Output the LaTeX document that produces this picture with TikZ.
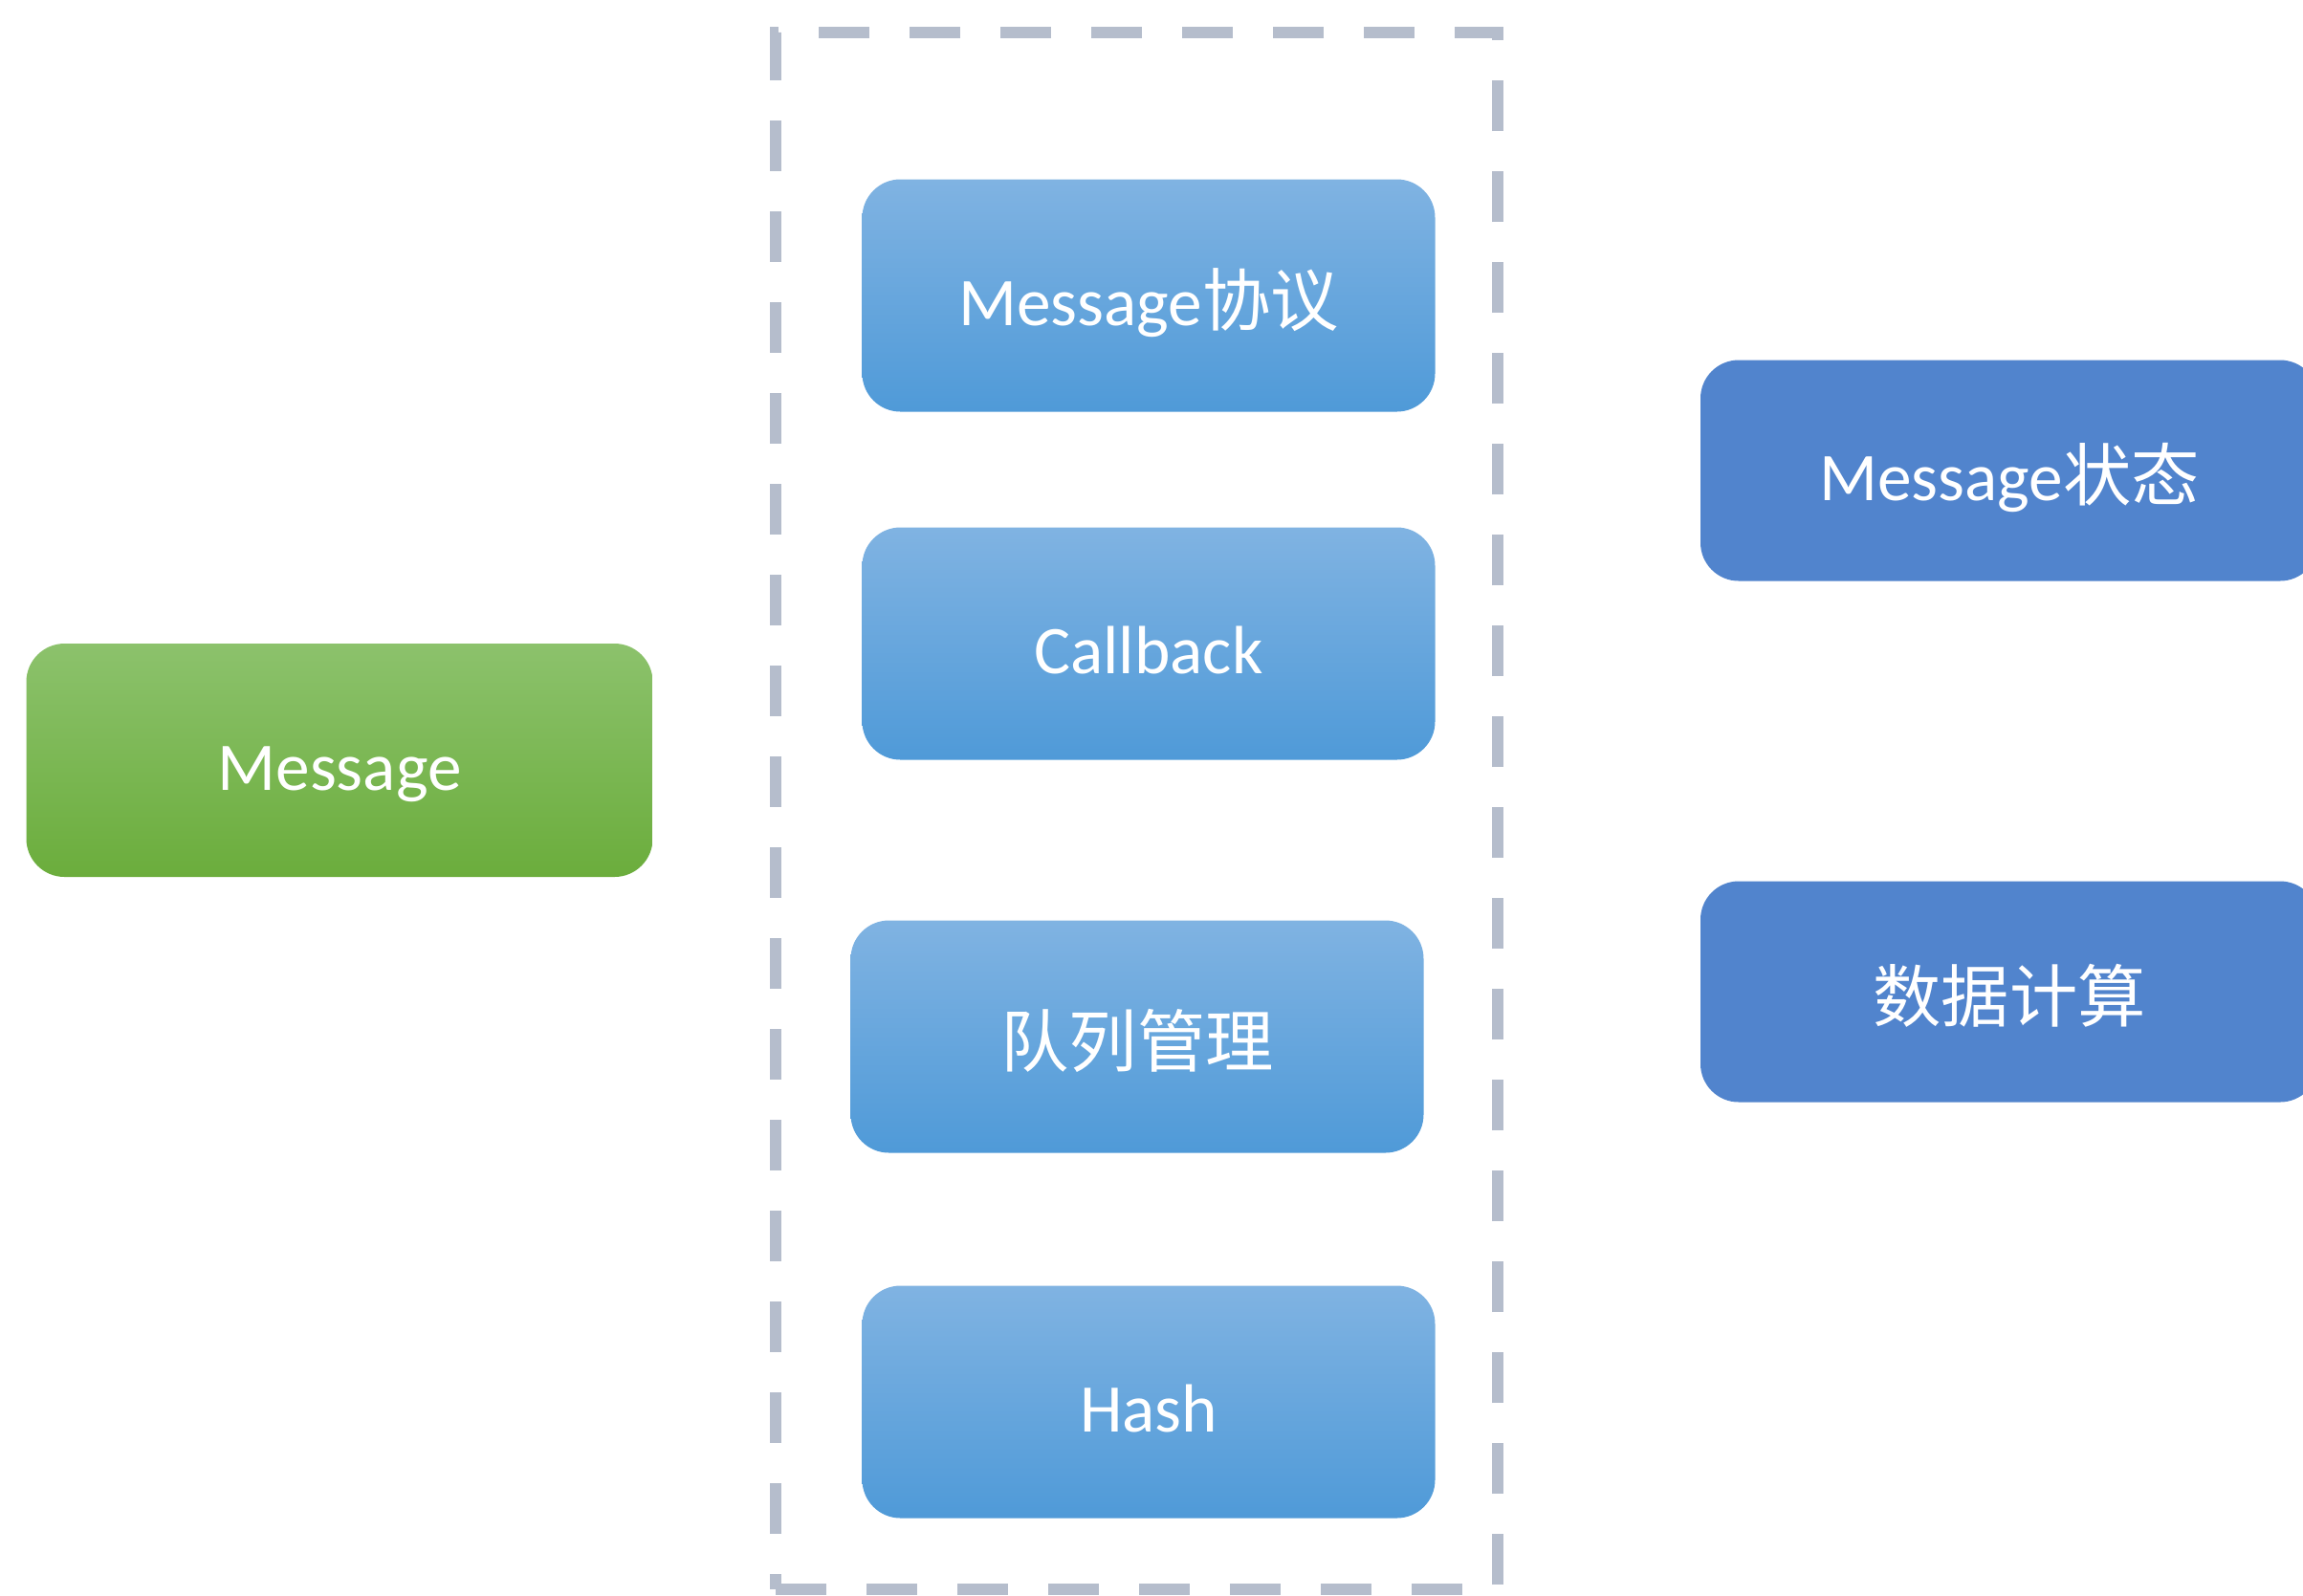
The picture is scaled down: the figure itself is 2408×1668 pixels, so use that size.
\documentclass[tikz,border=0pt]{standalone}
\usepackage{fontspec}
\setmainfont{Carlito}
\newfontfamily\cjk{Noto Sans CJK SC}
\definecolor{blueTop}{HTML}{80B3E2}
\definecolor{blueBot}{HTML}{4F9AD8}
\definecolor{greenTop}{HTML}{8CC26C}
\definecolor{greenBot}{HTML}{6BAD3C}
\definecolor{stateBlue}{HTML}{5184CD}
\definecolor{frameGrey}{HTML}{B5BDCC}
\begin{document}
\begin{tikzpicture}[x=0.3pt,y=-0.3pt,
  box/.style={rounded corners=12pt, inner sep=0pt, text=white,
    font=\fontsize{21.4pt}{24pt}\selectfont,
    text height=22pt, text depth=3.2pt,
    minimum width=#1},
  box/.default=179.7pt,
  bluebox/.style={box, minimum height=72.9pt, top color=blueTop, bottom color=blueBot},
  greenbox/.style={box=196.5pt, minimum height=73.2pt, top color=greenTop, bottom color=greenBot},
  statebox/.style={box=193.8pt, minimum height=69.3pt, fill=stateBlue},
  frame/.style={draw=frameGrey, line width=3.6pt, dash pattern=on 15.9pt off 12.6pt,
    inner sep=0pt, minimum width=226.5pt, minimum height=488.4pt}
]
\useasboundingbox (0,0) rectangle (2408,1668);
\fill[white] (0,0) rectangle (2408,1668);

% dashed group around the middle column
\node[frame] (group) at (1188.5,848) {};

% source message
\node[greenbox] (msg) at (355,795) {Message};

% middle column
\node[bluebox] (proto) at (1201,309) {Message{\cjk 协议}};
\node[bluebox] (cb) at (1201,673) {Callback};
\node[bluebox] (queue) at (1189,1084) {{\cjk 队列管理}};
\node[bluebox] (hash) at (1201,1466) {Hash};

% right column
\node[statebox] (state) at (2101,492) {Message{\cjk 状态}};
\node[statebox] (calc) at (2101,1037) {{\cjk 数据计算}};
\end{tikzpicture}
\end{document}
